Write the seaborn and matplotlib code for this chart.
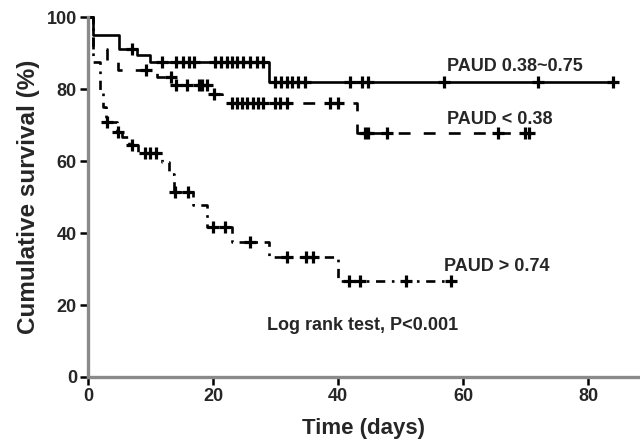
"""Kaplan-Meier survival curves by PAUD group."""

import matplotlib
matplotlib.use("Agg")
import matplotlib.pyplot as plt
import numpy as np
import pandas as pd
import seaborn as sns

# Group names (as labelled on the chart)
GROUPS = ["PAUD 0.38~0.75", "PAUD < 0.38", "PAUD > 0.74"]

# Event times (days) and survival (%) after each event
mid_times = [0.8, 5.0, 7.8, 9.9, 29.0]
mid_surv = [95.1, 91.1, 89.4, 87.6, 82.0]
mid_end = 84.0
mid_censor = [7.0, 11.8, 14.1, 15.2, 16.2, 17.0, 20.3, 21.3, 22.2, 23.0,
              23.8, 24.8, 25.9, 27.0, 28.0, 29.9, 30.9, 31.8, 32.6, 33.6,
              34.7, 41.9, 43.8, 44.8, 57.0, 72.0, 84.0]

low_times = [0.8, 3.1, 4.8, 11.0, 13.5, 19.5, 21.4, 43.0]
low_surv = [91.1, 87.6, 85.3, 83.3, 81.3, 78.8, 76.3, 67.7]
low_end = 70.6
low_censor = [9.2, 13.2, 14.0, 15.9, 17.8, 18.3, 19.0, 20.1, 23.0, 23.8,
              24.6, 25.4, 26.4, 27.2, 28.0, 29.9, 30.7, 31.8, 38.7, 40.0,
              44.3, 44.8, 47.8, 65.6, 69.9, 70.6]

high_times = [0.8, 1.9, 2.4, 2.9, 4.6, 5.5, 6.5, 8.0, 11.8, 13.0, 13.7,
              16.8, 19.0, 23.0, 29.0, 40.0]
high_surv = [87.5, 79.2, 75.0, 70.8, 68.0, 66.6, 64.6, 62.4, 59.9, 56.5,
             51.3, 47.9, 41.8, 37.6, 33.4, 26.7]
high_end = 58.0
high_censor = [3.0, 4.8, 7.0, 9.1, 9.9, 10.9, 13.9, 16.0, 20.0, 21.9, 25.9,
               31.8, 34.9, 36.0, 41.7, 43.5, 50.8, 58.0]

X_TICKS = [0, 20, 40, 60, 80]
Y_TICKS = [0, 20, 40, 60, 80, 100]

# Label text positions (data coords)
LABEL_POS = {"PAUD 0.38~0.75": (57.4, 86.4),
             "PAUD < 0.38": (57.4, 71.6),
             "PAUD > 0.74": (57.0, 30.6)}


def km_frame(name, times, surv, end, censor):
    t = np.array([0.0] + list(times) + [end])
    s = np.array([100.0] + list(surv) + [surv[-1]])
    steps = pd.DataFrame({"time": t, "surv": s, "group": name})
    c = np.array(censor)
    idx = np.searchsorted(t[:-1], c, side="right") - 1
    marks = pd.DataFrame({"time": c, "surv": s[idx], "group": name})
    return steps, marks


parts = [km_frame(GROUPS[0], mid_times, mid_surv, mid_end, mid_censor),
         km_frame(GROUPS[1], low_times, low_surv, low_end, low_censor),
         km_frame(GROUPS[2], high_times, high_surv, high_end, high_censor)]
steps = pd.concat([p[0] for p in parts], ignore_index=True)
marks = pd.concat([p[1] for p in parts], ignore_index=True)

sns.set_style("ticks")
plt.rcParams.update({
    "font.family": ["Liberation Sans", "DejaVu Sans"],
    "font.weight": "bold",
    "axes.labelweight": "bold",
})

fig = plt.figure(figsize=(6.4, 4.4), dpi=100)
ax = fig.add_axes([0.1375, 0.1432, 0.8625, 0.8175])

sns.lineplot(
    data=steps, x="time", y="surv", style="group", style_order=GROUPS,
    dashes={GROUPS[0]: "", GROUPS[1]: (4.5, 5), GROUPS[2]: (3.5, 2.5, 1, 2.5)},
    color="black", linewidth=1.9, drawstyle="steps-post",
    estimator=None, sort=False, legend=False, clip_on=False, ax=ax,
)
sns.scatterplot(
    data=marks, x="time", y="surv", marker="+", color="black",
    s=70, linewidth=2.3, legend=False, clip_on=False, zorder=3, ax=ax,
)

for name, (x, y) in LABEL_POS.items():
    ax.text(x, y, name, fontsize=13, fontweight="bold", va="center", ha="left")
ax.text(28.6, 14.2, "Log rank test, P<0.001", fontsize=13,
        fontweight="bold", va="center", ha="left")

ax.set_xlim(0, 88.3)
ax.set_ylim(0, 100)
ax.set_xticks(X_TICKS)
ax.set_yticks(Y_TICKS)
ax.set_xlabel("Time (days)", fontsize=16, fontweight="bold", labelpad=9)
ax.set_ylabel("Cumulative survival (%)", fontsize=17.5, fontweight="bold",
              labelpad=5)

for lab in ax.get_xticklabels() + ax.get_yticklabels():
    lab.set_fontweight("bold")
    lab.set_fontsize(13)
ax.tick_params(direction="out", length=6, width=1.8, color="black", pad=2)

sns.despine(ax=ax)
for side in ("left", "bottom"):
    ax.spines[side].set_color("#8a8a8a")
    ax.spines[side].set_linewidth(2.4)

fig.savefig("out.png", dpi=100)
